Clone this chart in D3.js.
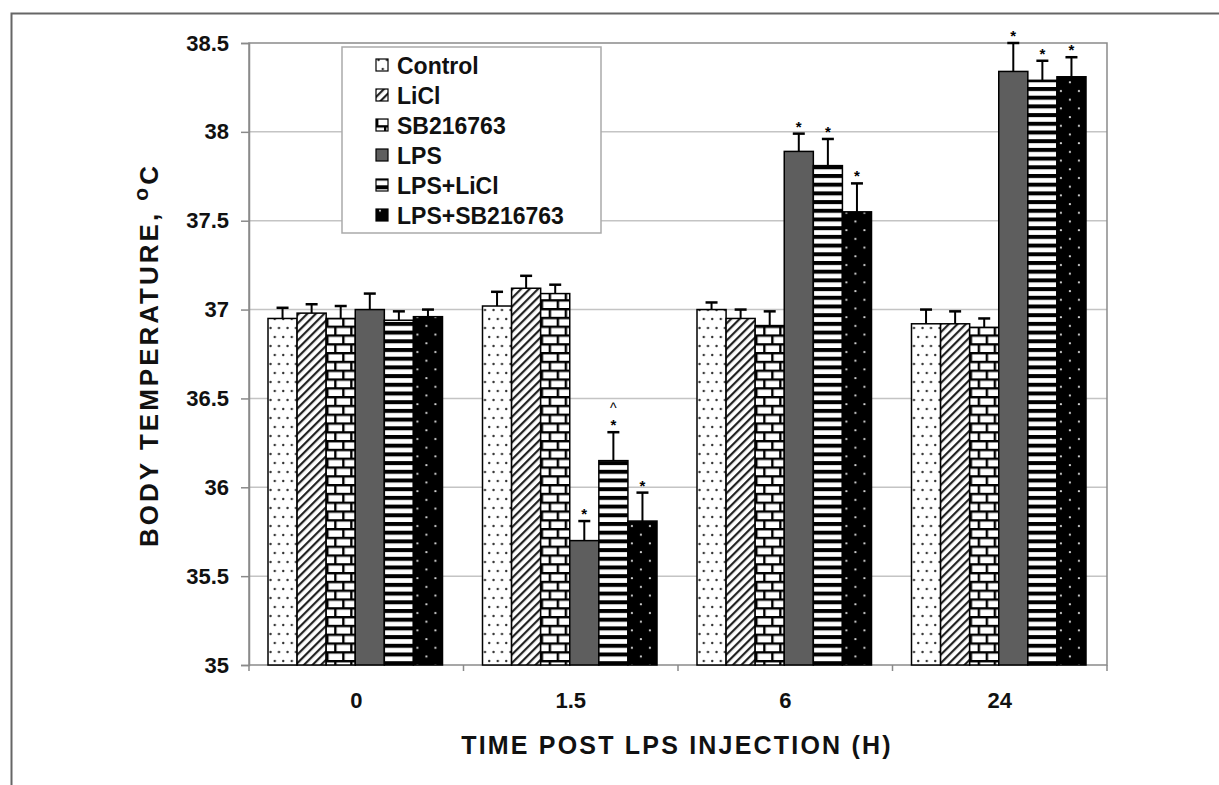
<!DOCTYPE html>
<html>
<head>
<meta charset="utf-8">
<script src="https://cdn.jsdelivr.net/npm/d3@7"></script>
<style>
  body { margin: 0; background: #fff; }
  svg { display: block; font-family: "Liberation Sans", Arial, sans-serif; font-weight: bold; }
</style>
</head>
<body>
<div id="chart"></div>
<script>
// data
const times = ["0", "1.5", "6", "24"];
const seriesNames = ["Control", "LiCl", "SB216763", "LPS", "LPS+LiCl", "LPS+SB216763"];

const controlMean = [36.95, 37.02, 37.00, 36.92];
const controlErr  = [0.06, 0.08, 0.04, 0.08];
const liclMean = [36.98, 37.12, 36.95, 36.92];
const liclErr  = [0.05, 0.07, 0.05, 0.07];
const sbMean = [36.95, 37.09, 36.91, 36.90];
const sbErr  = [0.07, 0.05, 0.08, 0.05];
const lpsMean = [37.00, 35.70, 37.89, 38.34];
const lpsErr  = [0.09, 0.11, 0.10, 0.16];
const lpsLiclMean = [36.94, 36.15, 37.81, 38.29];
const lpsLiclErr  = [0.05, 0.16, 0.15, 0.11];
const lpsSbMean = [36.96, 35.81, 37.55, 38.31];
const lpsSbErr  = [0.04, 0.16, 0.16, 0.11];

// significance marks above each bar
const controlMarks = ["", "", "", ""];
const liclMarks = ["", "", "", ""];
const sbMarks = ["", "", "", ""];
const lpsMarks = ["", "*", "*", "*"];
const lpsLiclMarks = ["", "*^", "*", "*"];
const lpsSbMarks = ["", "*", "*", "*"];

const yTicks = [35, 35.5, 36, 36.5, 37, 37.5, 38, 38.5];

const means = [controlMean, liclMean, sbMean, lpsMean, lpsLiclMean, lpsSbMean];
const errs = [controlErr, liclErr, sbErr, lpsErr, lpsLiclErr, lpsSbErr];
const marks = [controlMarks, liclMarks, sbMarks, lpsMarks, lpsLiclMarks, lpsSbMarks];

let width = 1219, height = 785;
let plotLeft = 249, plotRight = 1107, plotTop = 43, plotBottom = 665;

let svg = d3.select("#chart").append("svg")
    .attr("width", width)
    .attr("height", height);

// ---- fill patterns
let defs = svg.append("defs");

let pDots = defs.append("pattern").attr("id", "p0")
    .attr("patternUnits", "userSpaceOnUse").attr("width", 8.5).attr("height", 18);
pDots.append("rect").attr("width", 8.5).attr("height", 18).attr("fill", "#fff");
pDots.append("circle").attr("cx", 2.5).attr("cy", 4).attr("r", 1.2).attr("fill", "#333");
pDots.append("circle").attr("cx", 6.75).attr("cy", 13).attr("r", 1.2).attr("fill", "#333");

let pDiag = defs.append("pattern").attr("id", "p1")
    .attr("patternUnits", "userSpaceOnUse").attr("width", 6).attr("height", 6)
    .attr("patternTransform", "rotate(45)");
pDiag.append("rect").attr("width", 6).attr("height", 6).attr("fill", "#fff");
pDiag.append("rect").attr("x", 0).attr("width", 2.2).attr("height", 6).attr("fill", "#222");

let pBrick = defs.append("pattern").attr("id", "p2")
    .attr("patternUnits", "userSpaceOnUse").attr("width", 16).attr("height", 17.6);
pBrick.append("rect").attr("width", 16).attr("height", 17.6).attr("fill", "#fff");
pBrick.append("rect").attr("x", 0).attr("y", 0).attr("width", 16).attr("height", 2.4).attr("fill", "#000");
pBrick.append("rect").attr("x", 0).attr("y", 8.8).attr("width", 16).attr("height", 2.4).attr("fill", "#000");
pBrick.append("rect").attr("x", 0).attr("y", 0).attr("width", 2.4).attr("height", 8.8).attr("fill", "#000");
pBrick.append("rect").attr("x", 8).attr("y", 8.8).attr("width", 2.4).attr("height", 8.8).attr("fill", "#000");

let pStripe = defs.append("pattern").attr("id", "p4")
    .attr("patternUnits", "userSpaceOnUse").attr("width", 10).attr("height", 8.7);
pStripe.append("rect").attr("width", 10).attr("height", 8.7).attr("fill", "#fff");
pStripe.append("rect").attr("y", 0).attr("width", 10).attr("height", 4).attr("fill", "#000");

let pBlackDots = defs.append("pattern").attr("id", "p5")
    .attr("patternUnits", "userSpaceOnUse").attr("width", 18).attr("height", 17.4);
pBlackDots.append("rect").attr("width", 18).attr("height", 17.4).attr("fill", "#000");
pBlackDots.append("circle").attr("cx", 4).attr("cy", 4).attr("r", 1.1).attr("fill", "#ddd");
pBlackDots.append("circle").attr("cx", 13).attr("cy", 12.7).attr("r", 1.1).attr("fill", "#ddd");

const fills = ["url(#p0)", "url(#p1)", "url(#p2)", "#5e5e5e", "url(#p4)", "url(#p5)"];

// ---- outer frame
svg.append("path")
    .attr("d", `M11.5,${height} V13.5 H${width}`)
    .attr("fill", "none")
    .attr("stroke", "#666")
    .attr("stroke-width", 2);

// ---- scales
let y = d3.scaleLinear().domain([35, 38.5]).range([plotBottom, plotTop]);
let x0 = d3.scaleBand().domain(times).range([plotLeft, plotRight]);
let x1 = d3.scaleBand().domain(seriesNames).range([19, x0.bandwidth() - 21]);

// gridlines
svg.append("g").selectAll("line")
    .data(yTicks.slice(1, -1))
    .join("line")
    .attr("x1", plotLeft).attr("x2", plotRight)
    .attr("y1", d => y(d)).attr("y2", d => y(d))
    .attr("stroke", "#c4c4c4")
    .attr("stroke-width", 1.5);

// plot frame
svg.append("rect")
    .attr("x", plotLeft).attr("y", y(38.5))
    .attr("width", plotRight - plotLeft).attr("height", y(35) - y(38.5))
    .attr("fill", "none")
    .attr("stroke", "#8a8a8a")
    .attr("stroke-width", 1.5);

// y axis
let yAxis = svg.append("g")
    .attr("transform", `translate(${plotLeft},0)`)
    .call(d3.axisLeft(y).tickValues(yTicks).tickFormat(d3.format("")).tickSize(8).tickPadding(12));
yAxis.select(".domain").attr("stroke", "#8a8a8a").attr("stroke-width", 1.5);
yAxis.selectAll(".tick line").attr("stroke", "#8a8a8a").attr("stroke-width", 1.5);
yAxis.selectAll(".tick text")
    .attr("font-family", "Liberation Sans, Arial, sans-serif")
    .attr("font-weight", "bold")
    .attr("font-size", 22)
    .attr("fill", "#111");

// x axis: labels at centers, tick marks at group borders
let xAxis = svg.append("g")
    .attr("transform", `translate(0,${plotBottom})`)
    .call(d3.axisBottom(x0).tickSize(0).tickPadding(27));
xAxis.select(".domain").remove();
xAxis.selectAll(".tick text")
    .attr("font-family", "Liberation Sans, Arial, sans-serif")
    .attr("font-weight", "bold")
    .attr("font-size", 22)
    .attr("fill", "#111");
svg.append("g").selectAll("line")
    .data(times.concat(["end"]))
    .join("line")
    .attr("x1", d => d === "end" ? plotRight : x0(d))
    .attr("x2", d => d === "end" ? plotRight : x0(d))
    .attr("y1", plotBottom).attr("y2", plotBottom + 6)
    .attr("stroke", "#8a8a8a")
    .attr("stroke-width", 1.5);

// ---- bars
let rows = [];
seriesNames.forEach((s, si) => {
    times.forEach((t, ti) => {
        rows.push({ s: s, si: si, t: t, v: means[si][ti], e: errs[si][ti], m: marks[si][ti] });
    });
});

let bars = svg.append("g").selectAll("g")
    .data(rows)
    .join("g")
    .attr("transform", d => `translate(${x0(d.t) + x1(d.s)},0)`);

bars.append("rect")
    .attr("x", 0)
    .attr("y", d => y(d.v))
    .attr("width", x1.bandwidth())
    .attr("height", d => y(35) - y(d.v))
    .attr("fill", d => fills[d.si])
    .attr("stroke", "#000")
    .attr("stroke-width", 1.5);

// error bars (upper only)
let bw = x1.bandwidth();
bars.append("line")
    .attr("x1", bw / 2).attr("x2", bw / 2)
    .attr("y1", d => y(d.v)).attr("y2", d => y(d.v + d.e))
    .attr("stroke", "#000").attr("stroke-width", 2);
bars.append("line")
    .attr("x1", bw / 2 - 6).attr("x2", bw / 2 + 6)
    .attr("y1", d => y(d.v + d.e)).attr("y2", d => y(d.v + d.e))
    .attr("stroke", "#000").attr("stroke-width", 2.5);

// significance marks: star, with a caret stacked above when needed
bars.filter(d => d.m.includes("*"))
    .append("text")
    .attr("x", bw / 2)
    .attr("y", d => y(d.v + d.e) - 2)
    .attr("text-anchor", "middle")
    .attr("font-size", 15)
    .text("*");
bars.filter(d => d.m.includes("^"))
    .append("text")
    .attr("x", bw / 2)
    .attr("y", d => y(d.v + d.e) - 19)
    .attr("text-anchor", "middle")
    .attr("font-size", 14)
    .attr("font-weight", "normal")
    .text("^");

// ---- legend
let legend = svg.append("g").attr("transform", "translate(342,47)");
legend.append("rect")
    .attr("width", 259).attr("height", 186)
    .attr("fill", "#fff")
    .attr("stroke", "#aaa")
    .attr("stroke-width", 1.5);
let items = legend.selectAll("g.item")
    .data(seriesNames)
    .join("g")
    .attr("class", "item")
    .attr("transform", (d, i) => `translate(34,${27 + i * 30})`);
items.append("rect")
    .attr("x", 0).attr("y", -15)
    .attr("width", 12).attr("height", 12)
    .attr("fill", (d, i) => fills[i])
    .attr("stroke", "#000")
    .attr("stroke-width", 1.2);
items.append("text")
    .attr("x", 21).attr("y", 0)
    .attr("font-size", 23)
    .attr("fill", "#111")
    .text(d => d);

// ---- axis titles
svg.append("text")
    .attr("x", 677).attr("y", 754)
    .attr("text-anchor", "middle")
    .attr("font-size", 25)
    .attr("letter-spacing", 2.2)
    .attr("fill", "#111")
    .text("TIME POST LPS INJECTION (H)");

let yTitle = svg.append("text")
    .attr("transform", "translate(158,355) rotate(-90)")
    .attr("text-anchor", "middle")
    .attr("font-size", 26)
    .attr("letter-spacing", 3)
    .attr("fill", "#111");
yTitle.append("tspan").text("BODY TEMPERATURE, ");
yTitle.append("tspan").attr("dy", -10).attr("font-size", 21).text("o");
yTitle.append("tspan").attr("dy", 10).text("C");
</script>
</body>
</html>
